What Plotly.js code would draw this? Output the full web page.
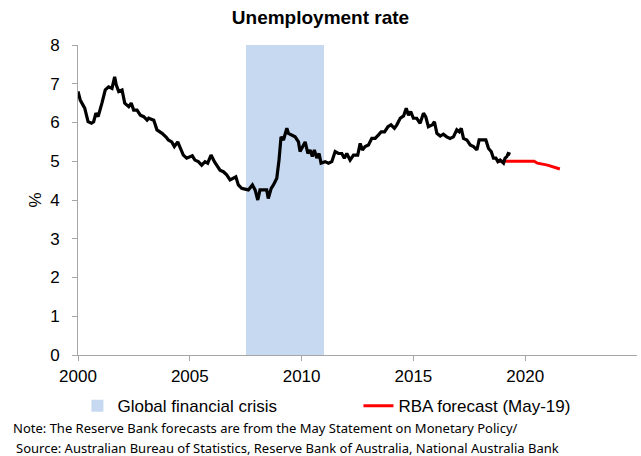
<!DOCTYPE html>
<html>
<head>
<meta charset="utf-8">
<script src="https://cdn.plot.ly/plotly-3.0.1.min.js"></script>
<style>html,body{margin:0;padding:0;background:#fff;}#chart{width:641px;height:456px;}</style>
</head>
<body>
<div id="chart"></div>
<script>
// Unemployment rate (%), x in decimal years
const unempYears = [2000.0,2000.1,2000.3,2000.45,2000.6,2000.7,2000.8,2000.9,2001.07,2001.22,2001.37,2001.52,2001.64,2001.71,2001.82,2001.97,2002.09,2002.27,2002.38,2002.49,2002.64,2002.79,2002.94,2003.09,2003.16,2003.39,2003.53,2003.76,2003.95,2004.04,2004.19,2004.31,2004.46,2004.56,2004.71,2004.86,2005.01,2005.11,2005.23,2005.38,2005.53,2005.68,2005.80,2005.95,2006.10,2006.21,2006.35,2006.50,2006.65,2006.80,2006.95,2007.06,2007.17,2007.32,2007.47,2007.62,2007.80,2007.92,2008.04,2008.14,2008.29,2008.44,2008.51,2008.64,2008.74,2008.89,2008.99,2009.08,2009.19,2009.34,2009.41,2009.56,2009.71,2009.86,2009.93,2010.16,2010.28,2010.38,2010.48,2010.57,2010.68,2010.78,2010.87,2011.05,2011.20,2011.35,2011.50,2011.65,2011.80,2011.91,2012.02,2012.17,2012.32,2012.39,2012.51,2012.62,2012.72,2012.84,2012.99,2013.14,2013.29,2013.44,2013.56,2013.71,2013.86,2014.00,2014.15,2014.26,2014.41,2014.56,2014.68,2014.78,2014.88,2015.00,2015.15,2015.30,2015.45,2015.55,2015.67,2015.85,2015.94,2016.05,2016.20,2016.34,2016.49,2016.64,2016.79,2016.94,2017.05,2017.14,2017.24,2017.39,2017.54,2017.69,2017.84,2017.94,2018.13,2018.24,2018.36,2018.48,2018.58,2018.69,2018.78,2018.88,2019.03,2019.10,2019.18,2019.24,2019.34];
const unempRate = [6.80,6.58,6.37,6.02,5.98,6.02,6.24,6.15,6.50,6.84,6.92,6.88,7.18,6.97,6.80,6.84,6.50,6.41,6.50,6.32,6.32,6.19,6.15,6.06,6.11,6.06,5.81,5.72,5.62,5.55,5.50,5.38,5.50,5.38,5.16,5.08,5.12,5.14,5.03,4.99,4.90,4.99,4.95,5.16,4.99,4.90,4.77,4.73,4.65,4.52,4.56,4.60,4.39,4.30,4.28,4.26,4.39,4.26,4.00,4.26,4.26,4.26,4.04,4.30,4.39,4.56,5.03,5.63,5.55,5.85,5.72,5.68,5.63,5.50,5.25,5.50,5.20,5.29,5.12,5.29,5.08,5.20,4.95,4.99,4.95,4.99,5.25,5.20,5.20,5.08,5.20,5.03,5.16,5.16,5.16,5.46,5.29,5.38,5.42,5.59,5.59,5.68,5.76,5.76,5.89,5.94,5.85,5.94,6.11,6.17,6.37,6.19,6.28,6.11,6.11,5.98,6.24,6.15,5.89,5.94,6.02,5.72,5.65,5.70,5.63,5.59,5.63,5.81,5.76,5.85,5.59,5.55,5.42,5.38,5.29,5.55,5.55,5.55,5.33,5.25,5.08,5.08,4.99,5.03,4.95,5.08,5.12,5.20,5.18];

// RBA forecast (May-19)
const rbaYears = [2018.73,2019.5,2020.0,2020.4,2020.55,2021.0,2021.55];
const rbaRate = [5.0,5.0,5.0,5.0,4.95,4.9,4.8];

// Global financial crisis period
const gfcStart = 2007.5;
const gfcEnd = 2011.0;
const gfcTop = 8;

const xTicks = [2000,2005,2010,2015,2020];
const yTicks = [0,1,2,3,4,5,6,7,8];

const traces = [
  {
    type: 'bar',
    name: 'Global financial crisis',
    x: [(gfcStart + gfcEnd) / 2],
    y: [gfcTop],
    width: [gfcEnd - gfcStart],
    marker: {color: '#c6d9f0', line: {width: 0}},
    hoverinfo: 'skip'
  },
  {
    type: 'scatter', mode: 'lines',
    name: 'RBA forecast (May-19)',
    x: rbaYears, y: rbaRate,
    line: {color: '#ff0000', width: 3}
  },
  {
    type: 'scatter', mode: 'lines',
    name: 'Unemployment rate',
    x: unempYears, y: unempRate,
    line: {color: '#000000', width: 3.2},
    showlegend: false
  }
];

const axisFont = {family: 'Liberation Sans, Arial, sans-serif', size: 17, color: '#000'};
const noteFont = {family: 'Noto Sans, Open Sans, sans-serif', size: 13, color: '#000'};

const layout = {
  width: 641, height: 456,
  margin: {l: 78, r: 4, t: 45, b: 101, autoexpand: false},
  paper_bgcolor: '#fff', plot_bgcolor: '#fff',
  bargap: 0,
  title: {
    text: '<b>Unemployment rate</b>',
    font: {family: 'Liberation Sans, Arial, sans-serif', size: 19, color: '#000'},
    x: 0.5, xref: 'container', y: 0.962, yref: 'container', yanchor: 'middle'
  },
  xaxis: {
    range: [2000, 2025],
    tickvals: xTicks,
    ticktext: xTicks.map(String),
    showgrid: false, zeroline: false,
    showline: true, linecolor: '#a6a6a6', linewidth: 1,
    ticks: 'outside', ticklen: 5, tickcolor: '#a6a6a6',
    ticklabelstandoff: 1,
    tickfont: axisFont
  },
  yaxis: {
    range: [0, 8],
    tickvals: yTicks,
    showgrid: false, zeroline: false,
    showline: true, linecolor: '#a6a6a6', linewidth: 1,
    ticks: 'outside', ticklen: 5, tickcolor: '#a6a6a6',
    ticklabelstandoff: 9,
    tickfont: axisFont,
    title: {text: '%', font: axisFont, standoff: 4}
  },
  showlegend: true,
  legend: {
    orientation: 'h',
    x: -0.001, xanchor: 'left',
    y: -0.107, yanchor: 'top',
    font: axisFont,
    entrywidth: 236, entrywidthmode: 'pixels',
    traceorder: 'normal',
    bgcolor: 'rgba(0,0,0,0)'
  },
  annotations: [
    {
      text: 'Note: The Reserve Bank forecasts are from the May Statement on Monetary Policy/',
      xref: 'paper', yref: 'paper', x: -0.12, y: -0.235, xanchor: 'left', yanchor: 'middle',
      showarrow: false, align: 'left', font: noteFont
    },
    {
      text: 'Source: Australian Bureau of Statistics, Reserve Bank of Australia, National Australia Bank',
      xref: 'paper', yref: 'paper', x: -0.1145, y: -0.30, xanchor: 'left', yanchor: 'middle',
      showarrow: false, align: 'left', font: noteFont
    }
  ]
};

Plotly.newPlot('chart', traces, layout, {displayModeBar: false, staticPlot: true});
</script>
</body>
</html>
